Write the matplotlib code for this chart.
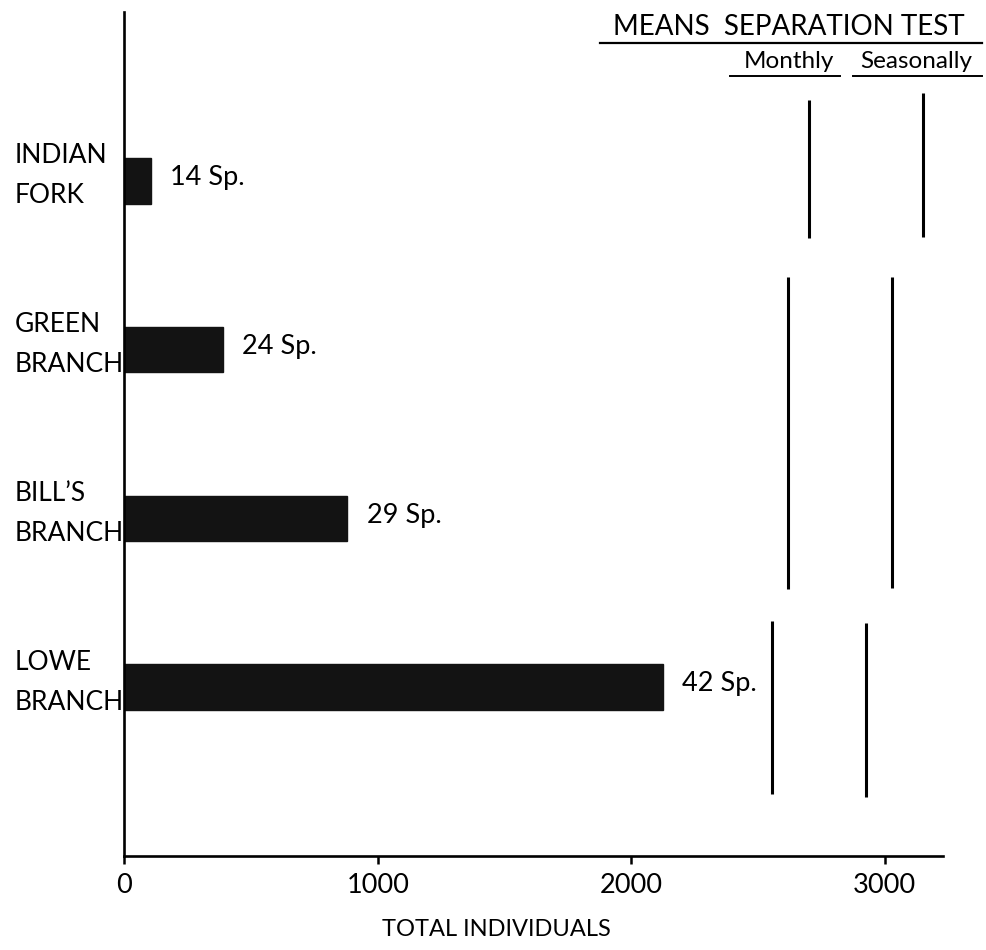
import matplotlib
matplotlib.use('Agg')
import matplotlib.pyplot as plt
from matplotlib.lines import Line2D
from matplotlib.transforms import blended_transform_factory

# data (bottom to top)
sites = ['LOWE\nBRANCH', 'BILL\u2019S\nBRANCH', 'GREEN\nBRANCH', 'INDIAN\nFORK']
individuals = [2125, 880, 390, 105]
species = [42, 29, 24, 14]

# means separation test: line position (total individuals) and the span of sites it covers
monthly_x = [2557, 2617, 2700]
monthly_span = [(0.37, 1.39), (1.58, 3.43), (3.66, 4.48)]
seasonal_x = [2925, 3028, 3150]
seasonal_span = [(0.35, 1.38), (1.59, 3.43), (3.67, 4.52)]

xticks = [0, 1000, 2000, 3000]

plt.rcParams['font.family'] = ['Lato', 'DejaVu Sans']

W, H = 986, 950
fig = plt.figure(figsize=(W / 100, H / 100), dpi=100)
ax = fig.add_axes([124.5 / W, 1 - 856 / H, (943 - 124.5) / W, (856 - 12) / H])

def fx(x):
    return x / W

def fy(y):
    return 1 - y / H

pos = list(range(1, len(sites) + 1))
ax.barh(pos, individuals, height=0.27, color='#131313', edgecolor='#131313')

for p, v, s in zip(pos, individuals, species):
    ax.text(v + 75, p + 0.02, '%d Sp.' % s, ha='left', va='center', fontsize=19.5)

# site names, left aligned at the figure edge
trans = blended_transform_factory(fig.transFigure, ax.transData)
for p, name in zip(pos, sites):
    ax.text(fx(15), p + 0.03, name, transform=trans, ha='left', va='center',
            fontsize=19, linespacing=1.75)

for x, (y0, y1) in zip(monthly_x, monthly_span):
    ax.plot([x, x], [y0, y1], color='black', lw=2.2, solid_capstyle='butt')
for x, (y0, y1) in zip(seasonal_x, seasonal_span):
    ax.plot([x, x], [y0, y1], color='black', lw=2.2, solid_capstyle='butt')

ax.set_xlim(0, 3230)
ax.set_ylim(0, 5)
ax.set_xticks(xticks)
ax.set_xticklabels([str(t) for t in xticks], fontsize=19.5)
ax.set_yticks([])
ax.tick_params(axis='x', direction='out', length=6, width=1.8, pad=6, color='black')
for side in ['top', 'right']:
    ax.spines[side].set_visible(False)
for side in ['left', 'bottom']:
    ax.spines[side].set_linewidth(1.9)
    ax.spines[side].set_color('black')

fig.text(fx(496), fy(930), 'TOTAL INDIVIDUALS', ha='center', va='center', fontsize=17)

# header for the means separation test
fig.text(fx(789), fy(27), 'MEANS  SEPARATION TEST', ha='center', va='center', fontsize=20)
fig.add_artist(Line2D([fx(600), fx(982)], [fy(43), fy(43)], color='black', lw=1.6))
fig.text(fx(789), fy(62), 'Monthly', ha='center', va='center', fontsize=17.5)
fig.add_artist(Line2D([fx(730), fx(840)], [fy(76), fy(76)], color='black', lw=1.4))
fig.text(fx(916), fy(62), 'Seasonally', ha='center', va='center', fontsize=17.5)
fig.add_artist(Line2D([fx(853), fx(982)], [fy(76), fy(76)], color='black', lw=1.4))

fig.savefig('out.png', dpi=100, facecolor='white')
